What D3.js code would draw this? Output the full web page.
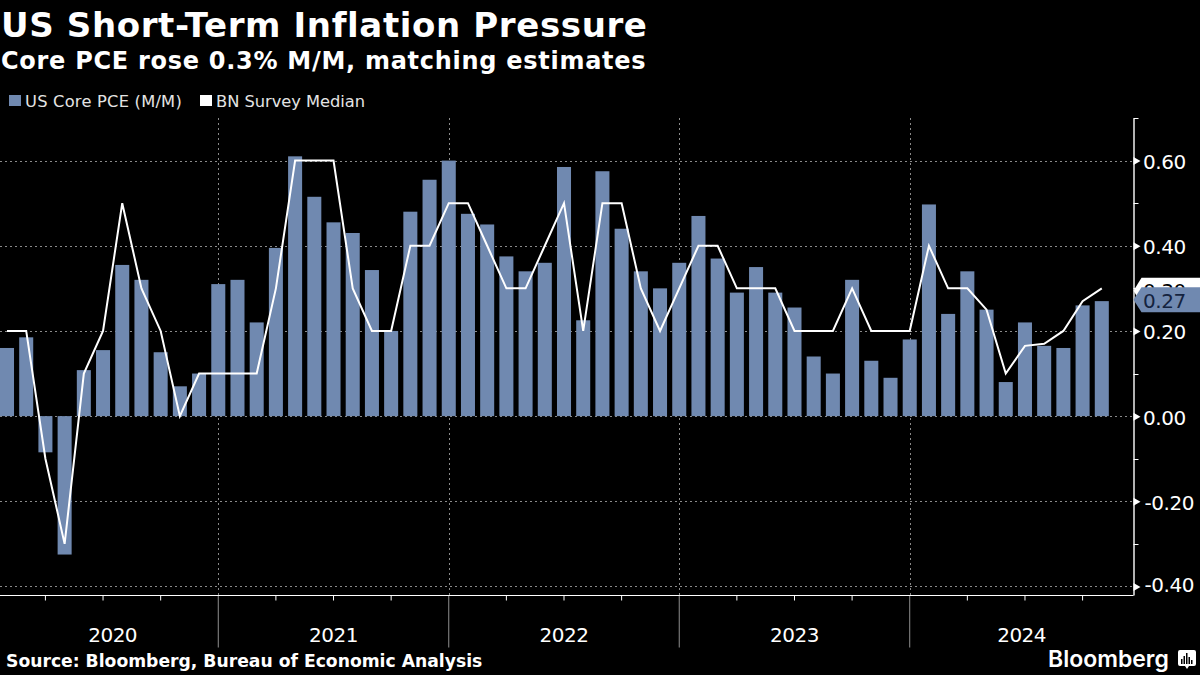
<!DOCTYPE html>
<html><head><meta charset="utf-8">
<script src="https://cdn.jsdelivr.net/npm/d3@7"></script>
<style>html,body{margin:0;padding:0;background:#000;overflow:hidden}svg{display:block}text{font-family:"DejaVu Sans",sans-serif}</style>
</head><body><svg id="c" width="1200" height="675"></svg>
<script>
const coreValues = [0.16,0.185,-0.085,-0.325,0.108,0.155,0.355,0.32,0.15,0.07,0.10,0.31,
 0.32,0.22,0.395,0.61,0.515,0.455,0.43,0.343,0.20,0.48,0.555,0.60,
 0.475,0.45,0.375,0.34,0.36,0.585,0.225,0.575,0.44,0.34,0.30,0.36,
 0.47,0.37,0.29,0.35,0.29,0.255,0.14,0.10,0.32,0.13,0.09,0.18,
 0.497,0.24,0.34,0.25,0.08,0.22,0.165,0.16,0.26,0.27];
const surveyValues = [0.2,0.2,-0.1,-0.3,0.1,0.2,0.5,0.3,0.2,0,0.1,0.1,
 0.1,0.1,0.3,0.6,0.6,0.6,0.3,0.2,0.2,0.4,0.4,0.5,
 0.5,0.4,0.3,0.3,0.4,0.5,0.2,0.5,0.5,0.3,0.2,0.3,
 0.4,0.4,0.3,0.3,0.3,0.2,0.2,0.2,0.3,0.2,0.2,0.2,
 0.4,0.3,0.3,0.25,0.1,0.165,0.17,0.2,0.27,0.3];
const yearLabels = ["2020","2021","2022","2023","2024"];
const yMajor = [-0.4,-0.2,0,0.2,0.4,0.6];
const yMinor = [-0.3,-0.1,0.1,0.3,0.5,0.7];
const legendLabels = ["US Core PCE (M/M)","BN Survey Median"];
const titleText = "US Short-Term Inflation Pressure";
const subtitleText = "Core PCE rose 0.3% M/M, matching estimates";
const sourceText = "Source: Bloomberg, Bureau of Economic Analysis";

const BLUE="#7089b0", GRID="#8a8a8a";
const months = coreValues.map((_,i)=>i);
const yearEnds = months.filter(i=>i%12===11);
const quarterEnds = months.filter(i=>i%3===2);
const axisX=1133.5, plotTop=118, plotBottom=595;

const x = d3.scaleBand().domain(months).range([-2.6,1111.4]).paddingInner(0.27).paddingOuter(0.135);
const cx = i=>x(i)+x.bandwidth()/2;
const y = d3.scaleLinear().domain([-0.42,0.70]).range([plotBottom,plotTop]);
const fmt = d=>d3.format(".2f")(d).replace("\u2212","-");
const svg = d3.select("#c");
svg.append("rect").attr("width",1200).attr("height",675).attr("fill","#000");

// grid
const grid = svg.append("g").attr("stroke",GRID).attr("stroke-width",1).attr("stroke-dasharray","2,3").attr("fill","none");
grid.selectAll("line.h").data(yMajor).join("line").attr("class","h")
  .attr("x1",0).attr("x2",axisX).attr("y1",d=>Math.round(y(d))+.5).attr("y2",d=>Math.round(y(d))+.5);
grid.selectAll("line.v").data(yearEnds).join("line").attr("class","v")
  .attr("x1",d=>Math.round(cx(d))+.5).attr("x2",d=>Math.round(cx(d))+.5).attr("y1",plotTop).attr("y2",plotBottom);

// bars
svg.append("g").attr("fill",BLUE).selectAll("rect").data(coreValues).join("rect")
  .attr("x",(d,i)=>x(i)).attr("width",x.bandwidth())
  .attr("y",d=>y(Math.max(0,d))).attr("height",d=>Math.abs(y(d)-y(0)));

// line
svg.append("path").datum(surveyValues).attr("fill","none").attr("stroke","#fff").attr("stroke-width",2)
  .attr("stroke-linejoin","miter").attr("d",d3.line().x((d,i)=>cx(i)).y(d=>y(d)));

// x axis
const xAxis = svg.append("g").attr("transform",`translate(0,${plotBottom+.5})`)
  .call(d3.axisBottom(x).tickValues([...quarterEnds]).tickSize(5).tickSizeOuter(0).tickFormat(""));
xAxis.select(".domain").remove();
xAxis.selectAll("line").attr("stroke","#fff").attr("stroke-width",1);
xAxis.selectAll(".tick").filter(d=>yearEnds.includes(d)).select("line").attr("y2",52).attr("stroke","#8f8f8f");
svg.append("line").attr("x1",0).attr("x2",axisX).attr("y1",plotBottom+.5).attr("y2",plotBottom+.5).attr("stroke","#fff").attr("stroke-width",1.2);

const edges=[cx(0),...yearEnds.map(cx),axisX];
svg.append("g").selectAll("text").data(yearLabels).join("text")
  .attr("x",(d,i)=>(edges[i]+edges[i+1])/2).attr("y",642).attr("text-anchor","middle")
  .attr("fill","#fff").attr("font-size",20).attr("letter-spacing",-0.5).text(d=>d);

// y axis
const yAxis = svg.append("g").attr("transform",`translate(${axisX},0)`)
  .call(d3.axisRight(y).tickValues(yMajor).tickSize(0).tickPadding(9).tickFormat(fmt));
yAxis.select(".domain").attr("stroke","#fff").attr("stroke-width",1.4);
yAxis.selectAll("text").attr("fill","#fff").attr("font-size",20).attr("letter-spacing",-0.45)
  .attr("dy",0).attr("y",d=>d===-0.4?5:8).attr("x",d=>d<0?11:9.5);
yAxis.selectAll(".tick line").remove();
yAxis.selectAll(".tick").append("path").attr("d","M0,-4L7,0L0,4Z").attr("fill","#fff");
svg.append("g").attr("transform",`translate(${axisX},0)`).selectAll("line").data(yMinor).join("line")
  .attr("x1",0).attr("x2",5).attr("y1",d=>Math.round(y(d))+.5).attr("y2",d=>Math.round(y(d))+.5)
  .attr("stroke","#fff").attr("stroke-width",1);

// last value labels
const lastSurvey = surveyValues[surveyValues.length-1], lastCore = coreValues[coreValues.length-1];
function tag(val,fill,color,h,shift,base){
  const g=svg.append("g").attr("transform",`translate(${axisX},${y(val)+shift})`);
  g.append("path").attr("d",`M0,0L8,${-h/2}L70,${-h/2}L70,${h/2}L8,${h/2}Z`).attr("fill",fill);
  g.append("text").attr("x",9.5).attr("y",base).attr("fill",color).attr("font-size",20).attr("letter-spacing",-0.45).text(fmt(val));
}
tag(lastSurvey,"#fff","#000",26,2.5,7.5);
tag(lastCore,BLUE,"#14233f",25,-1.3,8.5);

// titles
svg.append("text").attr("x",1).attr("y",37).attr("fill","#fff").attr("font-size",34).attr("font-weight",700).attr("letter-spacing",0.62).text(titleText);
svg.append("text").attr("x",1).attr("y",69).attr("fill","#fff").attr("font-size",24).attr("font-weight",700).attr("letter-spacing",0.72).text(subtitleText);

// legend
const lg=svg.append("g");
const lx=[9,200], tx=[25,216], lc=[BLUE,"#fff"], ls=[0.22,-0.03];
legendLabels.forEach((t,i)=>{
  lg.append("rect").attr("x",lx[i]).attr("y",95).attr("width",12).attr("height",11).attr("fill",lc[i]);
  lg.append("text").attr("x",tx[i]).attr("y",107).attr("fill","#e4e4e4").attr("font-size",16.3).attr("letter-spacing",ls[i]).text(t);
});

// footer
svg.append("text").attr("x",6).attr("y",667).attr("fill","#fff").attr("font-size",17.2).attr("font-weight",700).text(sourceText);
svg.append("text").attr("x",1048).attr("y",667).attr("fill","#fff").attr("font-size",23).attr("font-weight",600)
  .style("font-family",'Inter').text("Bloomberg");
const logo=svg.append("g").attr("transform","translate(1178,650)");
logo.append("path").attr("d","M2,0H16a2,2 0 0 1 2,2V14a2,2 0 0 1 -2,2H11L9,19L7,16H2a2,2 0 0 1 -2,-2V2a2,2 0 0 1 2,-2Z").attr("fill","#fff");
logo.selectAll("rect").data([5,8,11,7,4]).join("rect").attr("x",(d,i)=>3+i*2.5).attr("width",1.5)
  .attr("y",d=>14-d).attr("height",d=>d).attr("fill","#000");
</script></body></html>
